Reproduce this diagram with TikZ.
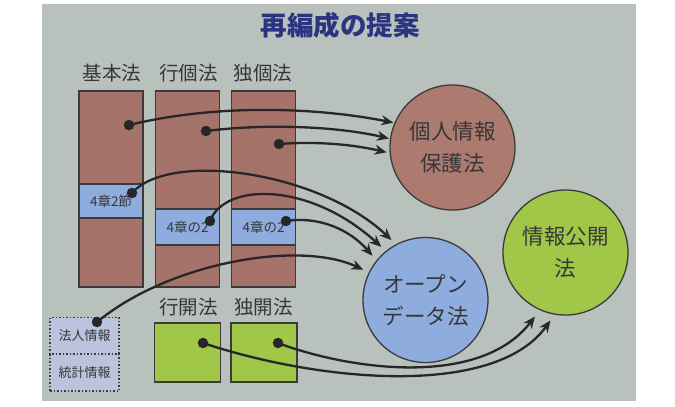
\documentclass[tikz,border=0pt]{standalone}
\usepackage{fontspec}
\newfontfamily\jp{Noto Sans CJK JP}
\usetikzlibrary{arrows.meta}
\definecolor{slidebg}{RGB}{184,193,188}
\definecolor{brownfill}{RGB}{166,115,106}
\definecolor{circbrown}{RGB}{172,122,110}
\definecolor{bluefill}{RGB}{143,172,222}
\definecolor{greenfill}{RGB}{160,199,72}
\definecolor{lavfill}{RGB}{186,196,222}
\definecolor{linegray}{RGB}{60,58,58}
\definecolor{txtgray}{RGB}{55,55,58}
\definecolor{navy}{RGB}{43,52,128}
\definecolor{dotcol}{RGB}{40,38,38}
\tikzset{
  colbox/.style={draw=linegray, line width=1.3pt, fill=brownfill, minimum width=64pt, minimum height=196pt, inner sep=0pt},
  secbox/.style={draw=linegray, line width=1.3pt, fill=bluefill, minimum width=64pt, inner sep=0pt, text=txtgray, font=\jp\fontsize{13.5}{14}\selectfont},
  grbox/.style={draw=linegray, line width=1.3pt, fill=greenfill, minimum width=66pt, minimum height=59pt, inner sep=0pt},
  lbl/.style={text=txtgray, font=\jp\fontsize{19.5}{20}\selectfont, inner sep=0pt},
  circ/.style={circle, draw=linegray, line width=1.3pt, minimum size=125pt, inner sep=0pt, text=txtgray, align=center, font=\jp\fontsize{21.5}{32}\selectfont},
  infobox/.style={draw=linegray, line width=1.5pt, dotted, fill=lavfill, minimum width=69pt, minimum height=37pt, inner sep=0pt, text=txtgray, font=\jp\fontsize{13}{13}\selectfont},
  dotc/.style={circle, fill=dotcol, inner sep=0pt, minimum size=10.5pt},
  arr/.style={draw=dotcol, line width=2.3pt, -{Stealth[length=12pt,width=10pt]}},
}
\begin{document}
\begin{tikzpicture}[x=1pt,y=-1pt]
\useasboundingbox (0,0) rectangle (675,407);
\fill[white] (0,0) rectangle (675,407);
\fill[slidebg] (42,4) rectangle (636,401);

\node[text=navy, font=\jp\bfseries\fontsize{26.5}{27}\selectfont] (title) at (340,25) {再編成の提案};

% column labels
\node[lbl] (lkihon) at (112,73) {基本法};
\node[lbl] (lgyoko) at (188.5,73) {行個法};
\node[lbl] (ldokuko) at (263,73) {独個法};

% columns
\node[colbox] (kihon) at (111,189) {};
\node[colbox] (gyoko) at (187.5,189) {};
\node[colbox] (dokuko) at (263.5,189) {};

% sections
\node[secbox, minimum height=34pt] (sec1) at (111,201) {4章2節};
\node[secbox, minimum height=36pt] (sec2) at (187.5,227) {4章の2};
\node[secbox, minimum height=36pt] (sec3) at (263.5,227) {4章の2};

% bottom labels & boxes
\node[lbl] (lgyokai) at (188.5,307) {行開法};
\node[lbl] (ldokukai) at (263.5,307) {独開法};
\node[grbox] (gyokai) at (187.5,352.5) {};
\node[grbox] (dokukai) at (264,352.5) {};

\node[infobox] (hojin) at (84.5,336) {法人情報};
\node[infobox] (toukei) at (84.5,372.5) {統計情報};

% circles
\node[circ, fill=circbrown] (pp) at (452.5,147.5) {個人情報\\保護法};
\node[circ, fill=bluefill] (od) at (425.5,300) {オープン\\データ法};
\node[circ, fill=greenfill] (ip) at (565.5,252.5) {情報公開\\法};

% dots
\node[dotc] (d1) at (129,125) {};
\node[dotc] (d2) at (206,131) {};
\node[dotc] (d3) at (279,144) {};
\node[dotc] (d4) at (132,193) {};
\node[dotc] (d5) at (210,221) {};
\node[dotc] (d6) at (286,221) {};
\node[dotc] (d7) at (97,322) {};
\node[dotc] (d8) at (203,343) {};
\node[dotc] (d9) at (278,343) {};

% arrows to personal info protection law
\draw[arr, shorten >=1pt] (d1.center) .. controls (220,103) and (320,108) .. (pp.157);
\draw[arr, shorten >=1pt] (d2.center) .. controls (270,123) and (340,127) .. (pp.172);
\draw[arr, shorten >=3pt] (d3.center) .. controls (320,141) and (355,145) .. (pp.185);

% arrows to open data law
\draw[arr, shorten >=6pt] (d4.center) .. controls (170,150) and (320,172) .. (od.118);
\draw[arr, shorten >=6pt] (d5.center) .. controls (225,182) and (310,182) .. (od.129);
\draw[arr, shorten >=6pt] (d6.center) .. controls (320,216) and (350,230) .. (od.141);
\draw[arr, shorten >=6pt] (d7.center) .. controls (170,262) and (300,240) .. (od.154);

% arrows to information disclosure law
\draw[arr, shorten >=7pt] (d8.center) .. controls (320,382) and (495,398) .. (ip.260);
\draw[arr, shorten >=8pt] (d9.center) .. controls (350,370) and (480,388) .. (ip.246);
\end{tikzpicture}
\end{document}
